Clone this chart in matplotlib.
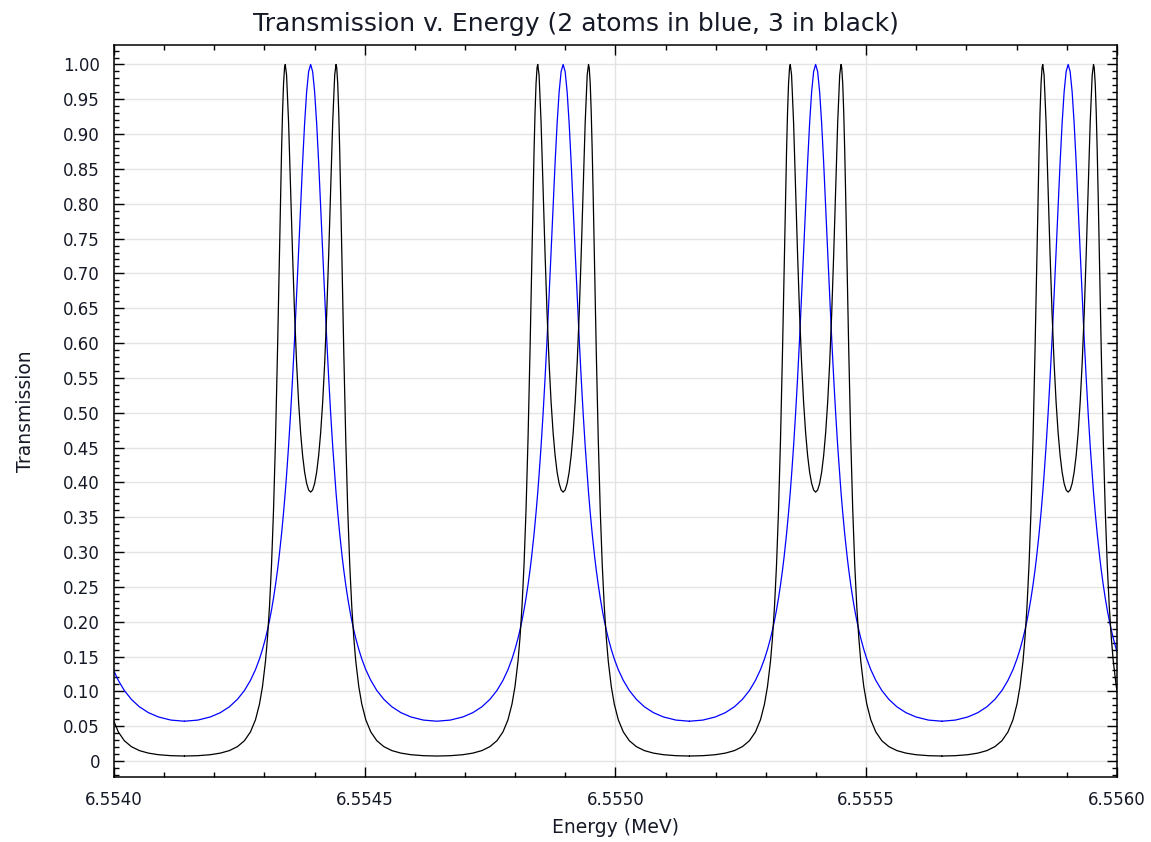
import numpy as np
import matplotlib
matplotlib.use('Agg')
import matplotlib.pyplot as plt
from matplotlib.ticker import MultipleLocator, FormatStrFormatter, FuncFormatter

# -----------------------------------------------------------------------------
# DATA
# -----------------------------------------------------------------------------
# centres of the 2-atom resonances [MeV]; the first one sits just left of the axis
PEAK_CENTRES_MEV = [6.5538887, 6.5543922, 6.5548957, 6.5553992, 6.5559027]

# one side of a resonance: offset from its centre [eV] and transmission
OFFSET_EV = [0, 4, 8, 12, 16, 20, 24, 28, 32, 36, 40, 44, 48, 50.6, 52, 54, 56,
             58, 60, 63, 66, 70, 74, 78, 82, 86, 90, 96, 102, 110, 120, 132,
             146, 162, 180, 200, 225, 251.75]
T_TWO_ATOMS = [1.0000, 0.9898, 0.9605, 0.9155, 0.8592, 0.7964, 0.7314, 0.6673,
               0.6064, 0.5499, 0.4983, 0.4519, 0.4105, 0.3858, 0.3736, 0.3567,
               0.3408, 0.3259, 0.3119, 0.2923, 0.2744, 0.2530, 0.2339, 0.2169,
               0.2018, 0.1883, 0.1761, 0.1602, 0.1465, 0.1311, 0.1157, 0.1012,
               0.0885, 0.0778, 0.0694, 0.0632, 0.0587, 0.0571]
T_THREE_ATOMS = [0.3860, 0.3891, 0.3985, 0.4147, 0.4386, 0.4715, 0.5151, 0.5713,
                 0.6418, 0.7270, 0.8230, 0.9171, 0.9850, 1.0000, 0.9955, 0.9728,
                 0.9317, 0.8755, 0.8086, 0.6987, 0.5902, 0.4627, 0.3601, 0.2814,
                 0.2221, 0.1774, 0.1433, 0.1069, 0.0817, 0.0591, 0.0417, 0.0291,
                 0.0206, 0.0149, 0.0113, 0.0090, 0.0076, 0.0071]

X_LIM = (6.5540, 6.5560)
Y_LIM = (-0.023, 1.028)


def build_series(centres, offsets, values):
    off = np.asarray(offsets, dtype=float)
    val = np.asarray(values, dtype=float)
    # mirror the one-sided profile around its centre
    off_full = np.concatenate((-off[:0:-1], off))
    val_full = np.concatenate((val[:0:-1], val))
    xs, ys = [], []
    for c in centres:
        xs.append(c + off_full * 1e-6)
        ys.append(val_full)
    return np.concatenate(xs), np.concatenate(ys)


x2, t2 = build_series(PEAK_CENTRES_MEV, OFFSET_EV, T_TWO_ATOMS)
x3, t3 = build_series(PEAK_CENTRES_MEV, OFFSET_EV, T_THREE_ATOMS)

TEXT_COLOR = '#161a26'

fig = plt.figure(figsize=(11.51, 8.42), dpi=100)
ax = fig.add_axes([0.0990, 0.0772, 0.8714, 0.8694])

ax.plot(x2, t2, color='#0000ff', lw=0.9)
ax.plot(x3, t3, color='black', lw=0.9)

ax.set_xlim(X_LIM)
ax.set_ylim(Y_LIM)

ax.xaxis.set_major_locator(MultipleLocator(0.0005))
ax.xaxis.set_minor_locator(MultipleLocator(0.0001))
ax.yaxis.set_major_locator(MultipleLocator(0.05))
ax.yaxis.set_minor_locator(MultipleLocator(0.01))
ax.xaxis.set_major_formatter(FormatStrFormatter('%.4f'))
ax.yaxis.set_major_formatter(FuncFormatter(lambda v, p: '0' if abs(v) < 1e-9 else f'{v:.2f}'))

ax.tick_params(which='both', direction='in', top=True, right=True, colors='black',
               labelcolor=TEXT_COLOR, labelsize=12, width=1.0)
ax.tick_params(which='major', length=7.5)
ax.tick_params(which='minor', length=3.8)
ax.tick_params(axis='y', pad=10)
ax.tick_params(axis='x', pad=10)

ax.grid(True, which='major', color='#e4e4e4', lw=1.0)
ax.set_axisbelow(True)
for sp in ax.spines.values():
    sp.set_linewidth(1.1)
    sp.set_color('black')

# title is centred on the figure, not on the axes
fig.text(0.5, 1 - 31 / 842, 'Transmission v. Energy (2 atoms in blue, 3 in black)',
         fontsize=18, color=TEXT_COLOR, ha='center', va='baseline')
ax.set_xlabel('Energy (MeV)', fontsize=13.5, color=TEXT_COLOR)
ax.set_ylabel('Transmission', fontsize=13.5, color=TEXT_COLOR)
ax.xaxis.set_label_coords(0.5, -0.056)
ax.yaxis.set_label_coords(-0.079, 0.5)

fig.savefig('out.png', dpi=100)
